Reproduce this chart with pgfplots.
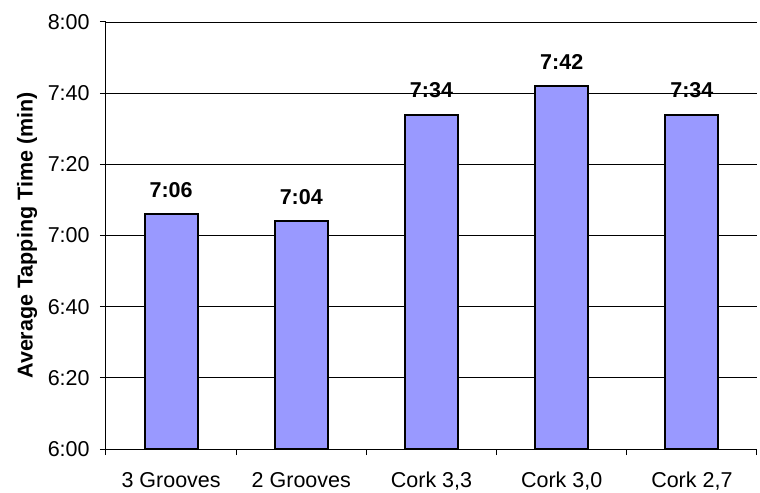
\documentclass[border=0pt]{standalone}
\usepackage{pgfplots}
\pgfplotsset{compat=1.18}
\usepackage{pgfplotstable}
\usepackage{fontspec}
\setmainfont{Liberation Sans}

\definecolor{barblue}{HTML}{9999FF}

% tapping time in seconds, with the label printed above each bar
\pgfplotstableread{
x  sec  lab
0  426  7:06
1  424  7:04
2  454  7:34
3  462  7:42
4  454  7:34
}\tapping

\begin{document}
\fontsize{21.5bp}{25bp}\selectfont
\begin{tikzpicture}
\begin{axis}[
  at={(0,0)}, anchor=south west,
  scale only axis,
  width=651bp, height=427bp,
  xmin=-0.5, xmax=4.5,
  ymin=360, ymax=480,
  axis x line*=bottom,
  axis y line*=left,
  axis line style={line width=1bp, -},
  ytick={360,380,400,420,440,460,480},
  yticklabels={6:00,6:20,6:40,7:00,7:20,7:40,8:00},
  xtick={0,1,2,3,4},
  xticklabels={3 Grooves,2 Grooves,{Cork 3,3},{Cork 3,0},{Cork 2,7}},
  minor xtick={-0.5,0.5,1.5,2.5,3.5,4.5},
  major x tick style={draw=none},
  minor tick length=6bp,
  major tick length=6bp,
  tick align=outside,
  tick style={black, line width=1bp},
  ymajorgrids,
  grid style={black, line width=0.9bp},
  tick label style={font=\fontsize{21.5bp}{25bp}\selectfont},
  xticklabel style={yshift=-10bp},
  yticklabel style={xshift=-3bp},
  ylabel={\textbf{Average Tapping Time (min)}},
  ylabel style={font=\fontsize{21.5bp}{25bp}\selectfont, yshift=-4bp},
]
\addplot[
  ybar, bar width=0.407, fill=barblue, draw=black, line width=2bp,
  nodes near coords,
  point meta=explicit symbolic,
  every node near coord/.append style={
    anchor=base, yshift=17bp, black,
    font=\fontsize{21.5bp}{25bp}\selectfont\bfseries},
] table[x=x, y=sec, meta=lab] {\tapping};
\end{axis}
\pgfresetboundingbox
\useasboundingbox (-106bp,-44bp) rectangle (654bp,449bp);
\end{tikzpicture}
\end{document}
